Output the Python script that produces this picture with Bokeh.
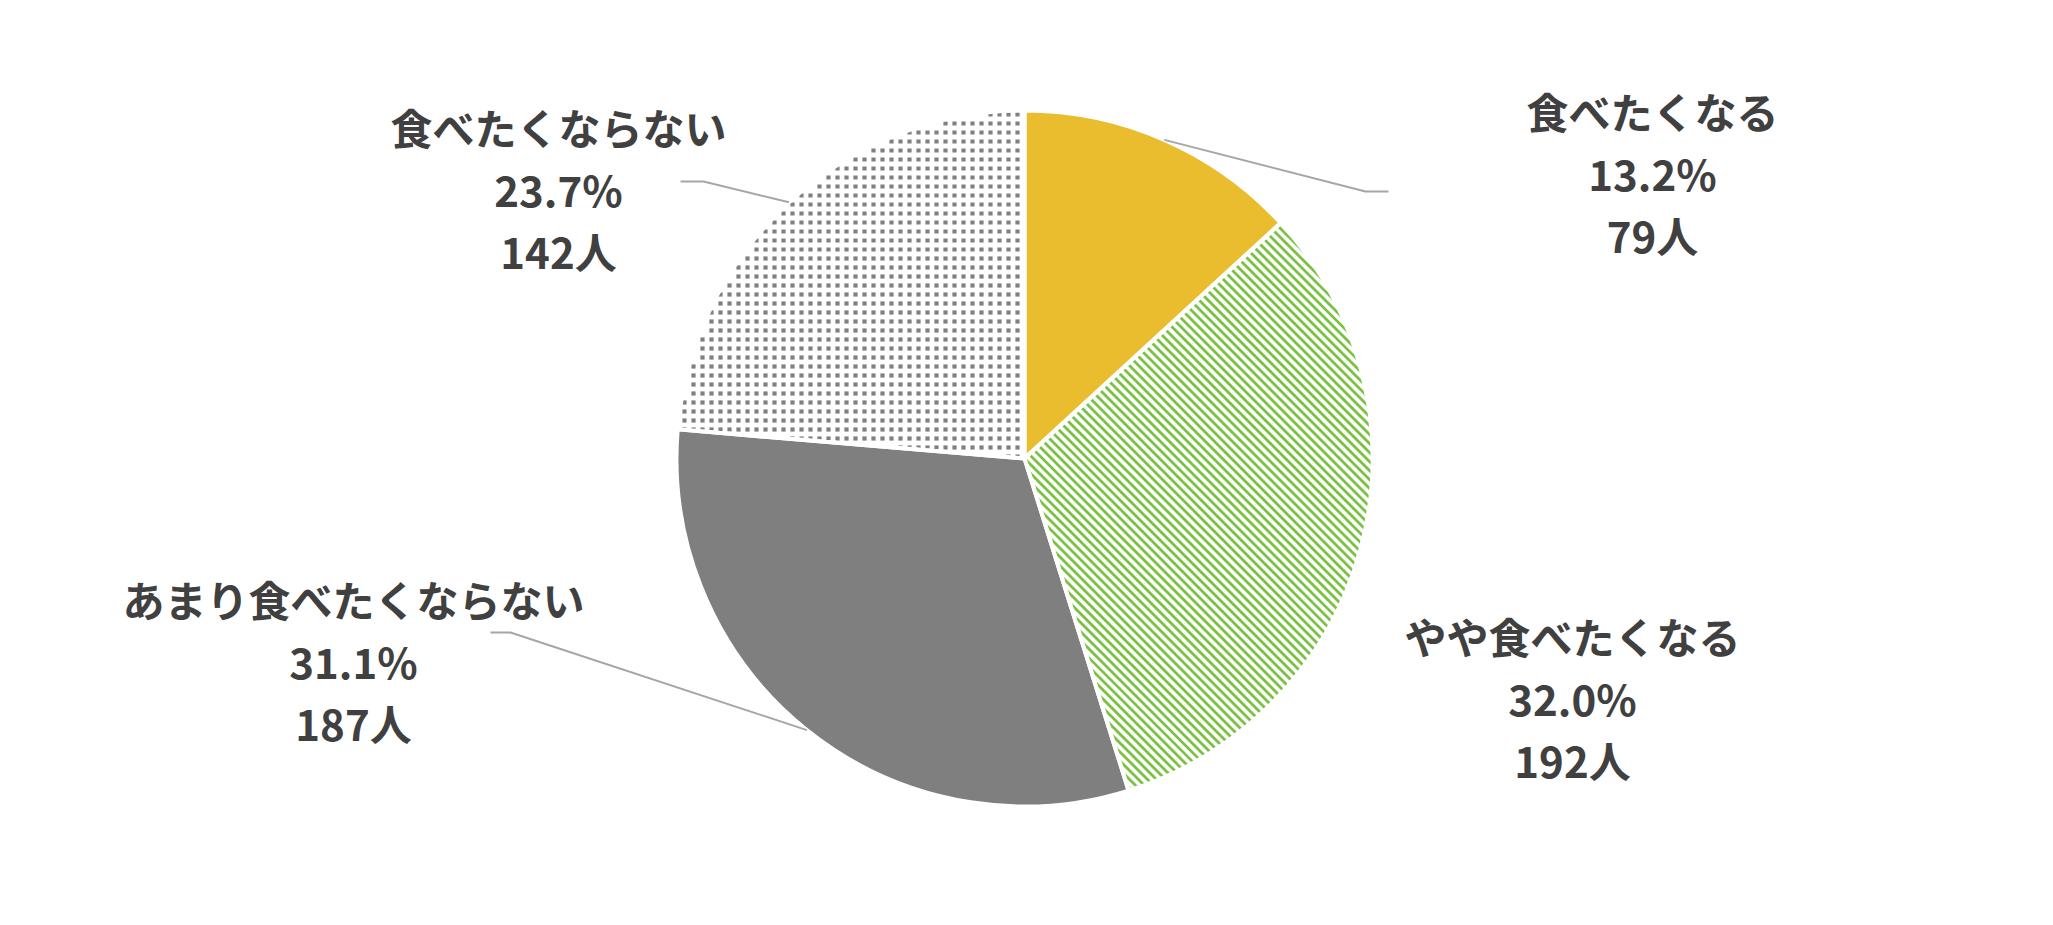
import math
from bokeh.plotting import figure
from bokeh.models import Range1d, ColumnDataSource
from bokeh.core.properties import value
from bokeh.embed import file_html
from bokeh.resources import INLINE

# ---- data ----
categories = ["食べたくなる", "やや食べたくなる", "あまり食べたくならない", "食べたくならない"]
counts = [79, 192, 187, 142]
pct_labels = ["13.2%", "32.0%", "31.1%", "23.7%"]
count_labels = ["79人", "192人", "187人", "142人"]

# ---- styles ----
fill_colors = ["#EABD2E", "#FFFFFF", "#7F7F7F", "#FFFFFF"]
pattern_kind = [None, "stripes", None, "dots"]
pattern_colors = [None, "#7BC143", None, "#808080"]
PAT_STEP = 9

W, H = 2036, 908
CX, CY, R = 1024, -458, 348

# label anchors (middle line), screen-like coords (x, -y)
label_pos = [(1652, -172), (1572, -697), (353, -660), (558, -188)]
line_gap = 62
# leader elbows: (elbow point, end point) or None
leaders = [((1365, -191), (1388, -191)), None, ((510, -632), (490, -632)), ((703, -181), (680, -181))]

p = figure(width=W, height=H, output_backend="svg", toolbar_location=None,
           x_range=Range1d(0, W), y_range=Range1d(-H, 0),
           min_border=0, outline_line_color=None)
p.axis.visible = False
p.grid.visible = False
p.background_fill_color = "white"
p.border_fill_color = "white"

total = sum(counts)
starts, ends, mids = [], [], []
cum = 0
for c in counts:
    a0 = math.pi / 2 - 2 * math.pi * cum / total
    cum += c
    a1 = math.pi / 2 - 2 * math.pi * cum / total
    starts.append(a0)
    ends.append(a1)
    mids.append((a0 + a1) / 2)


def inside(u, v, a0, a1, rmax):
    """point (u,v) relative to centre inside clockwise wedge a0 -> a1 (span < pi)."""
    if u * u + v * v > rmax * rmax:
        return False
    c1 = math.cos(a1) * v - math.sin(a1) * u  # cross(dir(a1), p)
    c0 = u * math.sin(a0) - v * math.cos(a0)  # cross(p, dir(a0))
    return c1 >= 0 and c0 >= 0


# base wedges
p.wedge(x=[CX] * 4, y=[CY] * 4, radius=R, start_angle=starts, end_angle=ends,
        direction="clock", fill_color=fill_colors, line_color=None)

# pattern fills
for i in range(len(counts)):
    a0, a1 = starts[i], ends[i]
    if pattern_kind[i] == "stripes":
        xs_l, ys_l = [], []
        d = (1 / math.sqrt(2), -1 / math.sqrt(2))
        k = -int(2 * R / PAT_STEP) - 2
        while k * PAT_STEP < 2 * R + PAT_STEP:
            c = k * PAT_STEP
            p0 = (c / 2, c / 2)
            rr = R * R - (p0[0] ** 2 + p0[1] ** 2)
            k += 1
            if rr <= 0:
                continue
            lo, hi = -math.sqrt(rr), math.sqrt(rr)
            for f0, f1 in [
                (math.cos(a1) * p0[1] - math.sin(a1) * p0[0], math.cos(a1) * d[1] - math.sin(a1) * d[0]),
                (p0[0] * math.sin(a0) - p0[1] * math.cos(a0), d[0] * math.sin(a0) - d[1] * math.cos(a0)),
            ]:
                if abs(f1) < 1e-12:
                    if f0 < 0:
                        lo, hi = 1, 0
                elif f1 > 0:
                    lo = max(lo, -f0 / f1)
                else:
                    hi = min(hi, -f0 / f1)
            if hi > lo:
                xs_l.append([CX + p0[0] + lo * d[0], CX + p0[0] + hi * d[0]])
                ys_l.append([CY + p0[1] + lo * d[1], CY + p0[1] + hi * d[1]])
        p.multi_line(xs=xs_l, ys=ys_l, line_color=pattern_colors[i], line_width=2.8)
    elif pattern_kind[i] == "dots":
        dx, dy = [], []
        n = int(R / PAT_STEP) + 1
        for gx in range(-n, n + 1):
            for gy in range(-n, n + 1):
                u, v = gx * PAT_STEP + 2, gy * PAT_STEP + 2
                if inside(u, v, a0, a1, R - 2):
                    dx.append(CX + u)
                    dy.append(CY + v)
        p.scatter(x=dx, y=dy, marker="square", size=4.2, fill_color=pattern_colors[i],
                  line_color=None)

# white separators on top
p.wedge(x=[CX] * 4, y=[CY] * 4, radius=R, start_angle=starts, end_angle=ends,
        direction="clock", fill_color=None, line_color="white", line_width=4)

# leader lines
for i, ld in enumerate(leaders):
    if ld is None:
        continue
    ex = CX + R * math.cos(mids[i])
    ey = CY + R * math.sin(mids[i])
    p.line(x=[ex, ld[0][0], ld[1][0]], y=[ey, ld[0][1], ld[1][1]],
           line_color="#A6A6A6", line_width=2)

# labels
xs, ys, texts = [], [], []
for i in range(len(counts)):
    lx, ly = label_pos[i]
    for k, t in enumerate([categories[i], pct_labels[i], count_labels[i]]):
        xs.append(lx)
        ys.append(ly + (1 - k) * line_gap)
        texts.append(t)
src = ColumnDataSource(dict(x=xs, y=ys, text=texts))
p.text(x="x", y="y", text="text", source=src, text_font=value("Noto Sans CJK JP"),
       text_font_style="bold", text_font_size="42px", text_color="#404040",
       text_align="center", text_baseline="middle")

open("out.html", "w").write(file_html(p, INLINE))
